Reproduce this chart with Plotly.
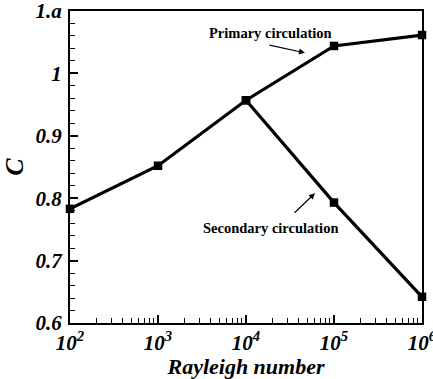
import plotly.graph_objects as go

# Rayleigh numbers and circulation strength C
rayleigh = [1e2, 1e3, 1e4, 1e5, 1e6]
c_primary = [0.783, 0.852, 0.957, 1.044, 1.0615]
rayleigh_secondary = [1e4, 1e5, 1e6]
c_secondary = [0.957, 0.793, 0.642]

y_tickvals = [0.6, 0.7, 0.8, 0.9, 1.0, 1.1]
y_ticktext = ["0.6", "0.7", "0.8", "0.9", "1", "1.a"]
x_tickvals = [1e2, 1e3, 1e4, 1e5, 1e6]
x_ticktext = ["10<sup>2</sup>", "10<sup>3</sup>", "10<sup>4</sup>", "10<sup>5</sup>", "10<sup>6</sup>"]

serif = "Liberation Serif, Times New Roman, serif"
line_style = dict(color="black", width=3.2)
marker_style = dict(symbol="square", size=8.5, color="black")
tick_font = dict(family=serif, size=21, color="black", weight="bold", style="italic")

fig = go.Figure()
fig.add_trace(go.Scatter(x=rayleigh, y=c_primary, mode="lines+markers",
                         line=line_style, marker=marker_style, showlegend=False,
                         cliponaxis=False))
fig.add_trace(go.Scatter(x=rayleigh_secondary, y=c_secondary, mode="lines+markers",
                         line=line_style, marker=marker_style, showlegend=False,
                         cliponaxis=False))

axis_common = dict(showline=True, linecolor="black", linewidth=2, mirror=True,
                   showgrid=False, zeroline=False, ticks="inside", tickcolor="black",
                   tickwidth=1.5, ticklen=8, automargin=False, ticklabeloverflow="allow")

fig.update_xaxes(type="log", range=[2, 6], tickvals=x_tickvals, ticktext=x_ticktext,
                 tickfont=tick_font,
                 minor=dict(ticks="inside", ticklen=5, tickwidth=1.2, tickcolor="black",
                            dtick="D1", showgrid=False),
                 title=dict(text="Rayleigh number", standoff=0,
                            font=dict(family=serif, size=22, color="black",
                                      weight="bold", style="italic")),
                 **axis_common)
fig.update_yaxes(range=[0.6, 1.1], tickvals=y_tickvals, ticktext=y_ticktext,
                 tickfont=tick_font, ticklabelstandoff=2,
                 minor=dict(ticks="inside", ticklen=5, tickwidth=1.2, tickcolor="black",
                            dtick=0.02, showgrid=False),
                 title=dict(text="C", standoff=6,
                            font=dict(family=serif, size=26, color="black",
                                      weight="bold", style="italic")),
                 **axis_common)

label_font = dict(family=serif, size=14.5, color="black")
fig.add_annotation(x=4.28, y=1.1, xref="x", yref="y", yshift=-22,
                   text="<b>Primary circulation</b>", showarrow=False, font=label_font)
fig.add_annotation(x=4.67, y=1.033, xref="x", yref="y", text="", showarrow=True,
                   ax=-37, ay=-8, arrowhead=2, arrowsize=1, arrowwidth=1.2, arrowcolor="black")
fig.add_annotation(x=4.28, y=0.753, xref="x", yref="y",
                   text="<b>Secondary circulation</b>", showarrow=False, font=label_font)
fig.add_annotation(x=4.784, y=0.808, xref="x", yref="y", text="", showarrow=True,
                   ax=-22, ay=21, arrowhead=2, arrowsize=1, arrowwidth=1.2, arrowcolor="black")

fig.update_layout(width=433, height=379, margin=dict(l=70, r=11, t=11, b=56),
                  plot_bgcolor="white", paper_bgcolor="white")

fig.write_html("out.html")
